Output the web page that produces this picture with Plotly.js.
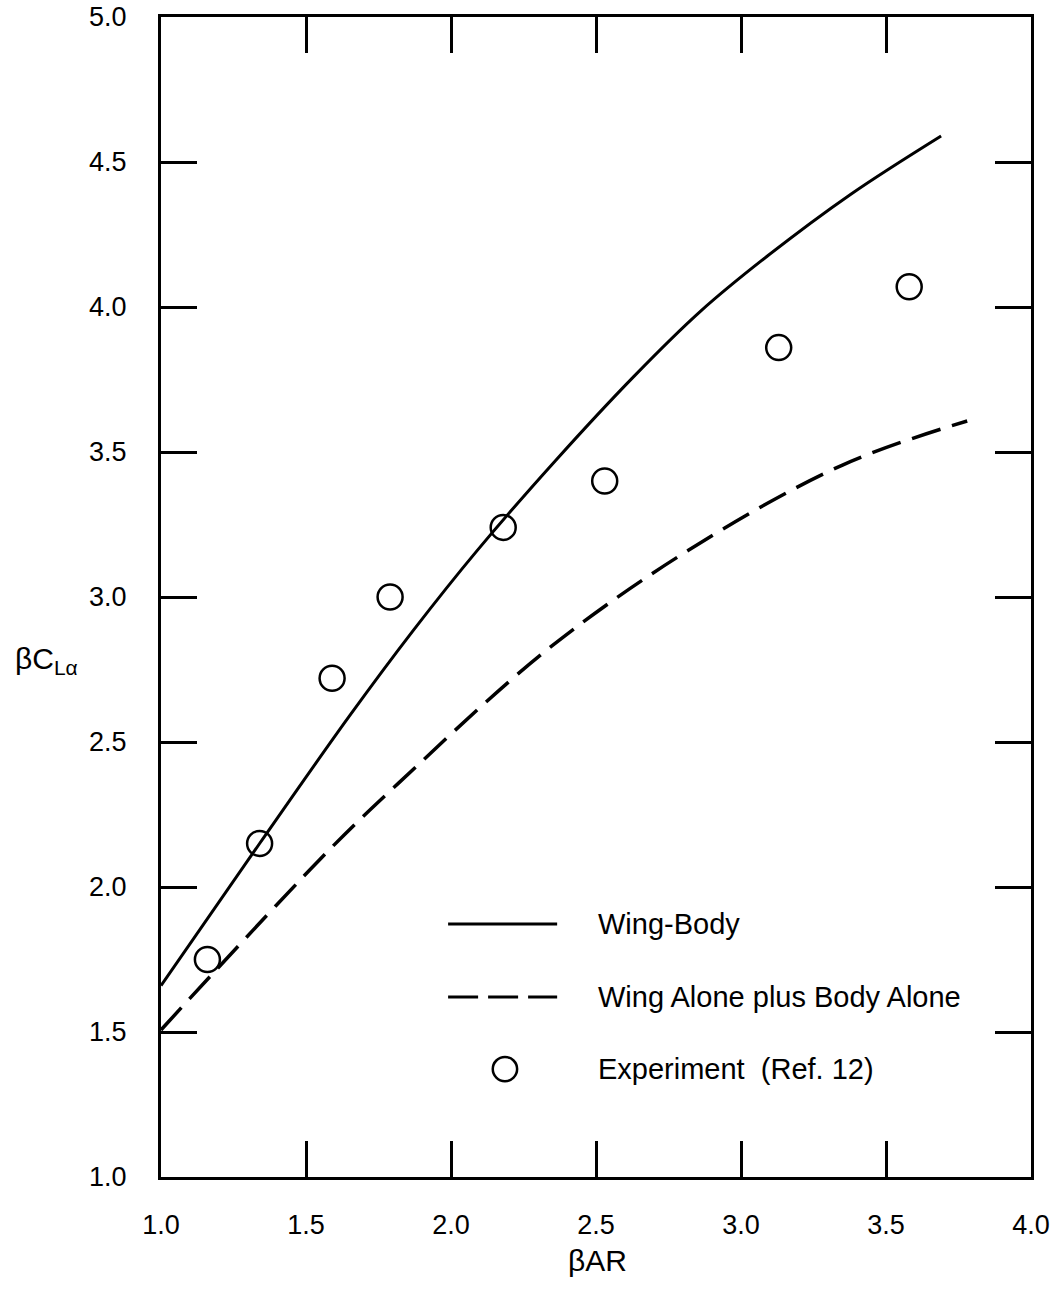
<!DOCTYPE html>
<html>
<head>
<meta charset="utf-8">
<script src="https://cdn.plot.ly/plotly-3.0.1.min.js"></script>
<style>
  html, body { margin: 0; padding: 0; background: #fff; }
  #chart { width: 1064px; height: 1300px; }
</style>
</head>
<body>
<div id="chart"></div>
<script>
// ---- data ----
const wingBodyX = [1.00, 1.34, 1.65, 1.87, 2.09, 2.36, 2.63, 2.86, 3.09, 3.38, 3.69];
const wingBodyY = [1.66, 2.15, 2.59, 2.885, 3.16, 3.47, 3.76, 3.985, 4.175, 4.39, 4.59];

const wingAloneX = [1.00, 1.19, 1.59, 1.82, 2.33, 2.82, 3.35, 3.78];
const wingAloneY = [1.507, 1.714, 2.138, 2.359, 2.817, 3.162, 3.455, 3.607];

const expX = [1.16, 1.34, 1.59, 1.79, 2.18, 2.53, 3.13, 3.58];
const expY = [1.75, 2.15, 2.72, 3.00, 3.24, 3.40, 3.86, 4.07];

const tickVals = [1.0, 1.5, 2.0, 2.5, 3.0, 3.5, 4.0, 4.5, 5.0];
const legendLabels = ["Wing-Body", "Wing Alone plus Body Alone", "Experiment  (Ref. 12)"];

const FONT = "Liberation Sans, Arial, sans-serif";

const traces = [
  { x: wingBodyX, y: wingBodyY, mode: "lines", line: { color: "#000", width: 3, shape: "spline", smoothing: 1 }, showlegend: false, hoverinfo: "skip" },
  { x: wingAloneX, y: wingAloneY, mode: "lines", line: { color: "#000", width: 3.5, dash: "30px,12px", shape: "spline", smoothing: 1 }, showlegend: false, hoverinfo: "skip" },
  { x: expX, y: expY, mode: "markers", marker: { symbol: "circle-open", size: 25, color: "#000", line: { width: 2.5, color: "#000" } }, showlegend: false, cliponaxis: false }
];

// legend drawn in data coordinates (x and y share the same px/unit)
const lgX0 = 1.99, lgX1 = 2.366, lgTx = 2.50;
const lgY = [1.872, 1.621, 1.372];

const axisCommon = {
  showline: true, linecolor: "#000", linewidth: 3, mirror: "ticks",
  ticks: "inside", ticklen: 36, tickwidth: 3, tickcolor: "#000",
  showgrid: false, zeroline: false, dtick: 0.5, tickformat: ".1f",
  tickfont: { family: FONT, size: 27, color: "#000" }, ticklabelstandoff: 26
};

const layout = {
  width: 1064, height: 1300,
  margin: { l: 161, r: 33, t: 17, b: 123 },
  paper_bgcolor: "#fff", plot_bgcolor: "#fff",
  xaxis: Object.assign({}, axisCommon, { range: [1, 4], tickvals: tickVals.slice(0, 7), ticklabelstandoff: 22 }),
  yaxis: Object.assign({}, axisCommon, { range: [1, 5], tickvals: tickVals }),
  shapes: [
    { type: "line", xref: "x", yref: "y", x0: lgX0, x1: lgX1, y0: lgY[0], y1: lgY[0], line: { color: "#000", width: 3 } },
    { type: "line", xref: "x", yref: "y", x0: lgX0, x1: lgX1, y0: lgY[1], y1: lgY[1], line: { color: "#000", width: 3, dash: "30px,10px" } },
    { type: "circle", xref: "x", yref: "y", x0: 2.186 - 0.042, x1: 2.186 + 0.042, y0: lgY[2] - 0.042, y1: lgY[2] + 0.042, line: { color: "#000", width: 2.5 } }
  ],
  annotations: [
    { xref: "x", yref: "y", x: lgTx, y: lgY[0], xanchor: "left", yanchor: "middle", text: legendLabels[0], showarrow: false, font: { family: FONT, size: 29, color: "#000" } },
    { xref: "x", yref: "y", x: lgTx, y: lgY[1], xanchor: "left", yanchor: "middle", text: legendLabels[1], showarrow: false, font: { family: FONT, size: 29, color: "#000" } },
    { xref: "x", yref: "y", x: lgTx, y: lgY[2], xanchor: "left", yanchor: "middle", text: legendLabels[2], showarrow: false, font: { family: FONT, size: 29, color: "#000" } },
    { xref: "paper", yref: "paper", x: 0.502, y: -0.072, xanchor: "center", yanchor: "middle", text: "βAR", showarrow: false, font: { family: FONT, size: 30, color: "#000" } },
    { xref: "paper", yref: "paper", x: -0.170, y: 0.445, xanchor: "left", yanchor: "middle", text: "βC<sub>Lα</sub>", showarrow: false, font: { family: FONT, size: 30, color: "#000" } }
  ]
};

Plotly.newPlot("chart", traces, layout, { staticPlot: true, displayModeBar: false });
</script>
</body>
</html>
